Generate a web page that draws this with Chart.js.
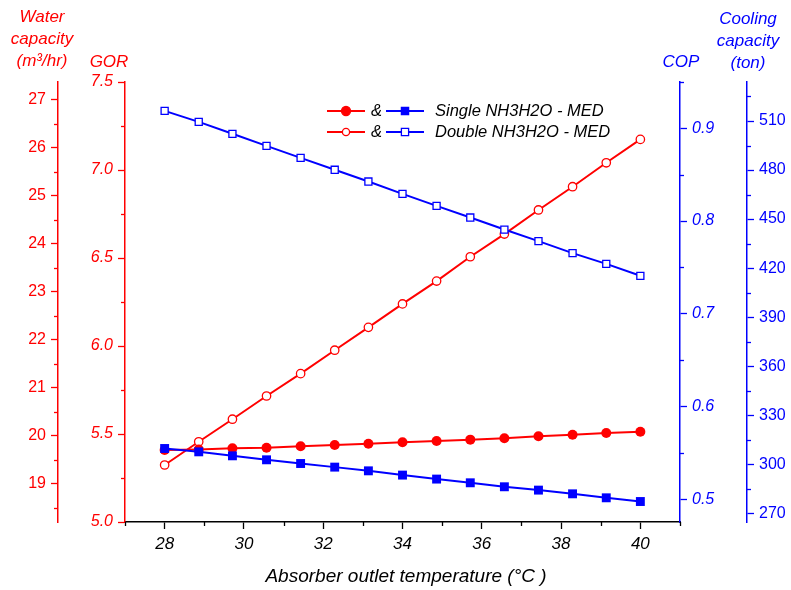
<!DOCTYPE html>
<html>
<head>
<meta charset="utf-8">
<title>GOR and COP vs absorber outlet temperature</title>
<script src="https://cdn.jsdelivr.net/npm/chart.js@4.4.1/dist/chart.umd.min.js"></script>
<style>
  html, body { margin: 0; padding: 0; background: #fff; }
  #wrap { width: 791px; height: 590px; }
</style>
</head>
<body>
<div id="wrap"><canvas id="chart" width="791" height="590"></canvas></div>
<script>
const FONT = "'Liberation Sans', Arial, Helvetica, sans-serif";
const RED = '#ff0000';
const BLUE = '#0000ff';

// absorber outlet temperature (degC)
const temps = [28, 28.86, 29.71, 30.57, 31.43, 32.29, 33.14, 34, 34.86, 35.71, 36.57, 37.43, 38.29, 39.14, 40];

// GOR, left axis
const gorSingle = [5.409, 5.412, 5.419, 5.422, 5.430, 5.438, 5.445, 5.453, 5.460, 5.468, 5.476, 5.487, 5.496, 5.506, 5.513];
const gorDouble = [5.324, 5.456, 5.584, 5.716, 5.843, 5.976, 6.106, 6.239, 6.369, 6.507, 6.636, 6.773, 6.905, 7.041, 7.174];

// COP, right axis
const copSingle = [0.5546, 0.5510, 0.5467, 0.5424, 0.5384, 0.5345, 0.5305, 0.5259, 0.5216, 0.5176, 0.5133, 0.5097, 0.5057, 0.5014, 0.4974];
const copDouble = [0.9189, 0.9070, 0.8941, 0.8811, 0.8682, 0.8553, 0.8426, 0.8293, 0.8164, 0.8038, 0.7908, 0.7783, 0.7654, 0.7538, 0.7409];

// tick values (major / minor)
const xTicks = [28, 30, 32, 34, 36, 38, 40];
const xMinor = [27, 29, 31, 33, 35, 37, 39, 41];
const waterTicks = [19, 20, 21, 22, 23, 24, 25, 26, 27];
const waterMinor = [18.5, 19.5, 20.5, 21.5, 22.5, 23.5, 24.5, 25.5, 26.5];
const gorTicks = [5.0, 5.5, 6.0, 6.5, 7.0, 7.5];
const gorMinor = [5.25, 5.75, 6.25, 6.75, 7.25];
const copTicks = [0.5, 0.6, 0.7, 0.8, 0.9];
const copMinor = [0.55, 0.65, 0.75, 0.85, 0.95];
const coolingTicks = [270, 300, 330, 360, 390, 420, 450, 480, 510];
const coolingMinor = [285, 315, 345, 375, 405, 435, 465, 495, 525];

const pts = ys => temps.map((x, i) => ({ x, y: ys[i] }));

function yAxis(pos, weight, width, min, max, ticks, color, italic, digits) {
  return {
    type: 'linear',
    position: pos,
    weight,
    min,
    max,
    afterFit: s => { s.width = width; },
    afterBuildTicks: s => { s.ticks = ticks.map(v => ({ value: v })); },
    border: { color, width: 1.5 },
    grid: { drawOnChartArea: false, color, tickLength: 7, tickWidth: 1.3 },
    ticks: {
      color,
      padding: 5,
      font: { family: FONT, size: 16, style: italic ? 'italic' : 'normal' },
      callback: v => v.toFixed(digits),
    },
  };
}

function drawMinor(ctx, scale, values, len) {
  ctx.save();
  ctx.strokeStyle = scale.options.border.color;
  ctx.lineWidth = 1.3;
  values.forEach(v => {
    const p = Math.round(scale.getPixelForValue(v)) + 0.5;
    ctx.beginPath();
    if (scale.isHorizontal()) {
      ctx.moveTo(p, scale.top);
      ctx.lineTo(p, scale.top + len);
    } else if (scale.position === 'left') {
      ctx.moveTo(scale.right, p);
      ctx.lineTo(scale.right - len, p);
    } else {
      ctx.moveTo(scale.left, p);
      ctx.lineTo(scale.left + len, p);
    }
    ctx.stroke();
  });
  ctx.restore();
}

function textLines(ctx, lines, cx, y0, step, color) {
  ctx.fillStyle = color;
  ctx.textAlign = 'center';
  ctx.textBaseline = 'alphabetic';
  lines.forEach((t, i) => ctx.fillText(t, cx, y0 + i * step));
}

function legendMark(ctx, x, y, color, shape, filled) {
  ctx.strokeStyle = color;
  ctx.lineWidth = 2;
  ctx.beginPath();
  ctx.moveTo(x - 19, y);
  ctx.lineTo(x + 19, y);
  ctx.stroke();
  ctx.lineWidth = 1.3;
  ctx.fillStyle = filled ? color : '#fff';
  ctx.beginPath();
  if (shape === 'circle') ctx.arc(x, y, filled ? 4.5 : 3.6, 0, Math.PI * 2);
  else ctx.rect(x - 3.6, y - 3.6, 7.2, 7.2);
  ctx.fill();
  ctx.stroke();
}

const decorations = {
  id: 'decorations',
  afterDraw(chart) {
    const { ctx, scales } = chart;
    drawMinor(ctx, scales.x, xMinor, 4);
    drawMinor(ctx, scales.water, waterMinor, 4);
    drawMinor(ctx, scales.gor, gorMinor, 4);
    drawMinor(ctx, scales.cop, copMinor, 4);
    drawMinor(ctx, scales.cooling, coolingMinor, 4);

    ctx.save();
    ctx.font = `italic 17px ${FONT}`;
    textLines(ctx, ['Water', 'capacity', '(m\u00b3/hr)'], scales.water.right - 16, 22, 22, RED);
    textLines(ctx, ['GOR'], scales.gor.right - 16, 67, 22, RED);
    textLines(ctx, ['COP'], scales.cop.left + 1, 67, 22, BLUE);
    textLines(ctx, ['Cooling', 'capacity', '(ton)'], scales.cooling.left + 1, 24, 22, BLUE);

    ctx.font = `italic 19px ${FONT}`;
    ctx.fillStyle = '#000';
    ctx.textBaseline = 'middle';
    ctx.fillText('Absorber outlet temperature (\u00b0C )', 406, 577);

    // legend: red (GOR) & blue (COP) per configuration
    const rows = [
      { y: 111, filled: true, label: 'Single NH3H2O - MED' },
      { y: 132, filled: false, label: 'Double NH3H2O - MED' },
    ];
    rows.forEach(r => {
      legendMark(ctx, 346, r.y, RED, 'circle', r.filled);
      legendMark(ctx, 405, r.y, BLUE, 'rect', r.filled);
      ctx.fillStyle = '#000';
      ctx.textAlign = 'left';
      ctx.textBaseline = 'middle';
      ctx.font = `italic 16.5px ${FONT}`;
      ctx.fillText('&', 371, r.y);
      ctx.fillText(r.label, 435, r.y);
    });
    ctx.restore();
  },
};

new Chart(document.getElementById('chart'), {
  type: 'line',
  data: {
    datasets: [
      {
        label: 'COP single',
        data: pts(copSingle),
        yAxisID: 'cop',
        borderColor: BLUE,
        backgroundColor: BLUE,
        borderWidth: 2,
        pointStyle: 'rect',
        pointRadius: 6.3,
        pointBorderWidth: 0,
      },
      {
        label: 'GOR single',
        data: pts(gorSingle),
        yAxisID: 'gor',
        borderColor: RED,
        backgroundColor: RED,
        borderWidth: 2,
        pointStyle: 'circle',
        pointRadius: 5,
        pointBorderWidth: 0,
      },
      {
        label: 'COP double',
        data: pts(copDouble),
        yAxisID: 'cop',
        borderColor: BLUE,
        backgroundColor: '#fff',
        borderWidth: 2,
        pointStyle: 'rect',
        pointRadius: 5,
        pointBorderWidth: 1.3,
      },
      {
        label: 'GOR double',
        data: pts(gorDouble),
        yAxisID: 'gor',
        borderColor: RED,
        backgroundColor: '#fff',
        borderWidth: 2,
        pointStyle: 'circle',
        pointRadius: 4.2,
        pointBorderWidth: 1.3,
      },
    ],
  },
  options: {
    responsive: false,
    animation: false,
    layout: { padding: { top: 82, left: 0, right: 0, bottom: 0 } },
    plugins: {
      legend: { display: false },
      tooltip: { enabled: false },
    },
    scales: {
      x: {
        type: 'linear',
        position: 'bottom',
        min: 27,
        max: 41,
        afterFit: s => { s.height = 68; },
        afterBuildTicks: s => { s.ticks = xTicks.map(v => ({ value: v })); },
        border: { color: '#000', width: 1.5 },
        grid: { drawOnChartArea: false, color: '#000', tickLength: 7, tickWidth: 1.3 },
        ticks: {
          color: '#000',
          padding: 5,
          font: { family: FONT, size: 17, style: 'italic' },
          callback: v => String(v),
        },
      },
      water: yAxis('left', 2, 58, 18.208, 27.375, waterTicks, RED, false, 0),
      gor: yAxis('left', 1, 67, 5.0, 7.5, gorTicks, RED, true, 1),
      cop: yAxis('right', 1, 67, 0.4753, 0.95, copTicks, BLUE, true, 1),
      cooling: yAxis('right', 2, 44, 264.68, 533.86, coolingTicks, BLUE, false, 0),
    },
  },
  plugins: [decorations],
});
</script>
</body>
</html>
